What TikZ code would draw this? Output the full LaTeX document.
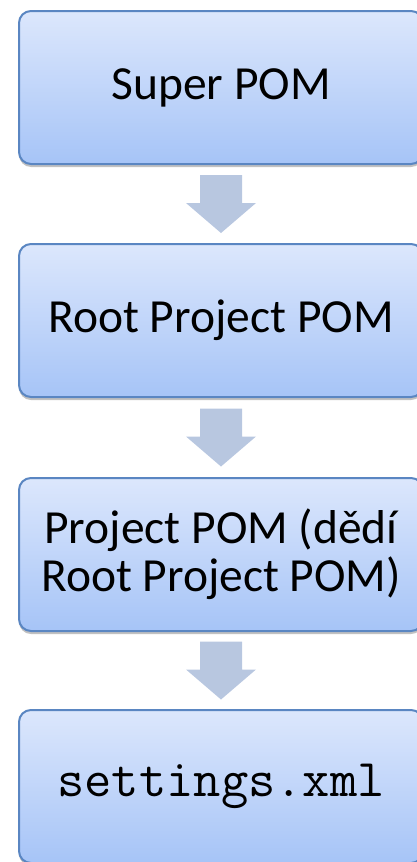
\documentclass[tikz,border=0pt]{standalone}
\usepackage{fontspec}
\setmainfont{Carlito}
\usetikzlibrary{calc,shadows}
\definecolor{boxtop}{HTML}{DCE7FC}
\definecolor{boxbot}{HTML}{A6C4F7}
\definecolor{boxline}{HTML}{5A86C2}
\definecolor{arrowfill}{HTML}{B8C7E0}
\tikzset{
  pombox/.style={draw=boxline, line width=2pt, rounded corners=12pt,
    top color=boxtop, bottom color=boxbot,
    minimum width=404pt, minimum height=153pt, inner sep=0pt, align=center,
    font=\fontsize{47.5}{48}\selectfont,
    drop shadow={shadow xshift=0pt, shadow yshift=-3pt, opacity=0.35, fill=black!70}},
  blockarrow/.pic={\fill[arrowfill] (-21,-29) -- (21,-29) -- (21,-1) -- (35,-1) -- (0,29) -- (-35,-1) -- (-21,-1) -- cycle;}
}
\begin{document}
\begin{tikzpicture}[x=1pt,y=-1pt]
\useasboundingbox (0,0) rectangle (417,862);
\node[pombox] (super) at (221,87.5) {Super POM};
\node[pombox] (root) at (221,320.5) {Root Project POM};
\node[pombox] (proj) at (221,554.5) {Project POM (dědí\\Root Project POM)};
\node[pombox, font=\ttfamily\fontsize{53}{54}\selectfont] (settings) at (221,786.5) {settings.xml};
\coordinate (m1) at ($(super.south)!.5!(root.north)$);
\coordinate (m2) at ($(root.south)!.5!(proj.north)$);
\coordinate (m3) at ($(proj.south)!.5!(settings.north)$);
\pic at (m1) {blockarrow};
\pic at (m2) {blockarrow};
\pic at (m3) {blockarrow};
\end{tikzpicture}
\end{document}
